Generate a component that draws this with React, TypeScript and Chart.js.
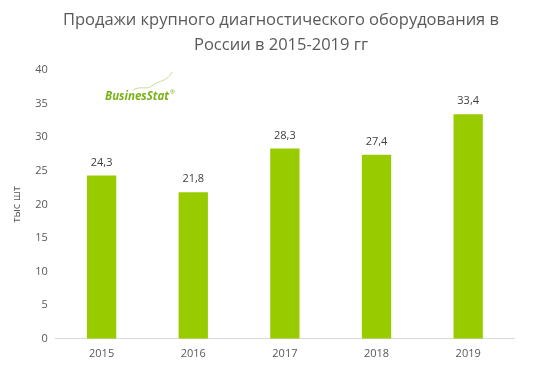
import React, { useEffect, useRef } from "react";
import { Chart, registerables } from "chart.js";

Chart.register(...registerables);

const categories = ["2015", "2016", "2017", "2018", "2019"];
const values = [24.3, 21.8, 28.3, 27.4, 33.4];
const titleLines = ["Продажи крупного диагностического оборудования в", "России в 2015-2019 гг"];
const yAxisTitle = "тыс шт";

const FONT = "'Open Sans', 'Noto Sans', sans-serif";
const TEXT = "#595959";

const titlePlugin = {
  id: "customTitle",
  afterDraw(chart: any) {
    const ctx = chart.ctx;
    ctx.save();
    ctx.font = `16.5px ${FONT}`;
    ctx.fillStyle = TEXT;
    ctx.textAlign = "center";
    ctx.textBaseline = "middle";
    ctx.fillText(titleLines[0], 281, 20);
    ctx.fillText(titleLines[1], 281, 45);
    ctx.restore();
  },
};

const labelPlugin = {
  id: "valueLabels",
  afterDatasetsDraw(chart: any) {
    const ctx = chart.ctx;
    const meta = chart.getDatasetMeta(0);
    ctx.save();
    ctx.font = `11px ${FONT}`;
    ctx.fillStyle = "#404040";
    ctx.textAlign = "center";
    ctx.textBaseline = "middle";
    meta.data.forEach((bar: any, i: number) => {
      ctx.fillText(String(values[i]).replace(".", ","), bar.x, bar.y - 13);
    });
    ctx.restore();
  },
};

const logoPlugin = {
  id: "logo",
  afterDraw(chart: any) {
    const ctx = chart.ctx;
    const x = 105;
    const y = 97;
    ctx.save();
    ctx.strokeStyle = "#c4e08f";
    ctx.lineWidth = 1;
    ctx.beginPath();
    ctx.moveTo(x + 28, y - 7);
    ctx.bezierCurveTo(x + 36, y - 12, x + 42, y - 6, x + 48, y - 12);
    ctx.bezierCurveTo(x + 55, y - 17, x + 62, y - 15, x + 67, y - 25);
    ctx.stroke();
    ctx.font = `italic bold 11.5px ${FONT}`;
    ctx.fillStyle = "#7ab317";
    ctx.textBaseline = "middle";
    ctx.textAlign = "left";
    ctx.fillText("BusinesStat", x, y);
    const w = ctx.measureText("BusinesStat").width;
    ctx.font = `6px ${FONT}`;
    ctx.fillText("®", x + w + 1, y - 5);
    ctx.restore();
  },
};

export default function App() {
  const ref = useRef<HTMLCanvasElement>(null);
  useEffect(() => {
    document.body.style.margin = "0";
    const chart = new Chart(ref.current!, {
      type: "bar",
      data: {
        labels: categories,
        datasets: [
          {
            data: values,
            backgroundColor: "#99cc00",
            categoryPercentage: 1,
            barPercentage: 0.32,
          },
        ],
      },
      options: {
        animation: false,
        responsive: false,
        layout: { padding: { left: 10, right: 31, top: 70, bottom: 13 } },
        plugins: {
          legend: { display: false },
          tooltip: { enabled: false },
          title: { display: false },
        },
        scales: {
          x: {
            grid: { display: false, drawTicks: false },
            border: { display: true, color: "#d9d9d9" },
            ticks: { color: TEXT, font: { family: FONT, size: 11 }, padding: 8 },
          },
          y: {
            min: 0,
            max: 40,
            ticks: { stepSize: 5, color: TEXT, font: { family: FONT, size: 11 }, padding: 8 },
            grid: { display: false, drawTicks: false },
            border: { display: false },
            title: {
              display: true,
              text: yAxisTitle,
              color: TEXT,
              font: { family: FONT, size: 11 },
              padding: { top: 0, bottom: 4 },
            },
          },
        },
      },
      plugins: [titlePlugin, labelPlugin, logoPlugin],
    });
    return () => chart.destroy();
  }, []);
  return <canvas ref={ref} width={545} height={381} />;
}
